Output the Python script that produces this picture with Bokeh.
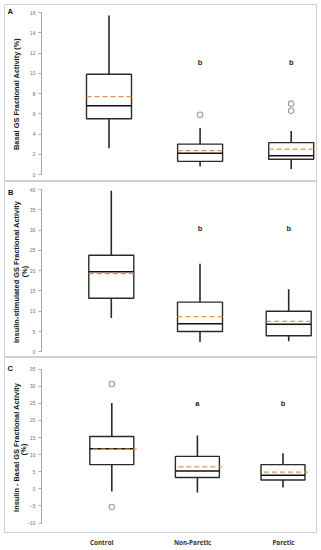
import math
import numpy as np
from bokeh.plotting import figure
from bokeh.models import Range1d, LinearAxis, FixedTicker, Label, ColumnDataSource
from bokeh.layouts import column
from bokeh.embed import file_html
from bokeh.resources import INLINE
from bokeh.core.properties import value

# ---------------- data ----------------
categories = ["Control", "Non-Paretic", "Paretic"]
positions = [1, 2, 3]

# Panel A : Basal GS fractional activity (%)
a_low = [2.6, 0.8, 0.55]
a_q1 = [5.5, 1.3, 1.5]
a_median = [6.8, 2.1, 1.85]
a_q3 = [9.9, 3.0, 3.15]
a_high = [15.7, 4.6, 4.3]
a_mean = [7.7, 2.35, 2.5]
a_out_pos = [2, 3, 3]
a_out_val = [5.9, 6.3, 7.0]
a_letters = ["b", "b"]
a_letter_pos = [2, 3]
a_letter_y = [11.1, 11.1]
a_ticks = [0, 2, 4, 6, 8, 10, 12, 14, 16]

# Panel B : Insulin-stimulated GS fractional activity (%)
b_low = [8.3, 2.4, 2.6]
b_q1 = [13.2, 5.0, 3.95]
b_median = [19.75, 6.9, 6.8]
b_q3 = [23.8, 12.25, 10.0]
b_high = [39.7, 21.7, 15.4]
b_mean = [19.3, 8.65, 7.5]
b_out_pos = []
b_out_val = []
b_letters = ["b", "b"]
b_letter_pos = [2, 3]
b_letter_y = [30.3, 30.3]
b_ticks = [0, 5, 10, 15, 20, 25, 30, 35, 40]

# Panel C : Insulin - Basal GS fractional activity (%)
c_low = [-0.8, -1.1, 0.4]
c_q1 = [7.1, 3.3, 2.6]
c_median = [11.7, 5.2, 4.0]
c_q3 = [15.3, 9.5, 7.1]
c_high = [25.1, 15.6, 10.4]
c_mean = [11.6, 6.4, 4.9]
c_out_pos = [1, 1]
c_out_val = [30.7, -5.3]
c_letters = ["a", "b"]
c_letter_pos = [2, 3]
c_letter_y = [25.1, 25.1]
c_ticks = [-10, -5, 0, 5, 10, 15, 20, 25, 30, 35]

# ---------------- styling ----------------
BORDER = "#cfcfcf"
DARK = "#2a2a2a"
MEAN_COL = "#e0954f"
OUT_COL = "#9a9a9a"
FONT = "Liberation Sans"
W = 314
FRAME_L, FRAME_R = 4, 316  # page px of frame


def make_panel(spec):
    top, height, mbt, mbb = spec["canvas"]
    f_top = top + mbt
    f_bot = top + height - mbb
    (v_lo, py_lo), (v_hi, py_hi) = spec["yref"]
    k = (py_lo - py_hi) / (v_hi - v_lo)
    y0 = v_lo - (f_bot - py_lo) / k
    y1 = v_hi + (py_hi - f_top) / k
    c1, sp = spec["xref"]
    px2x = lambda px: 1 + (px - c1) / sp
    py2y = lambda py: v_lo + (py_lo - py) / k
    x0, x1 = px2x(FRAME_L), px2x(FRAME_R)

    p = figure(width=W, height=height, x_range=Range1d(x0, x1), y_range=Range1d(y0, y1),
               output_backend="svg", toolbar_location=None, x_axis_location=None,
               min_border_left=1, min_border_right=1, min_border_top=mbt,
               min_border_bottom=mbb, background_fill_color="white",
               border_fill_color="white", outline_line_color=BORDER, outline_line_width=1)
    p.grid.visible = False

    ya = p.yaxis[0]
    ya.fixed_location = px2x(40.7)
    ya.bounds = (spec["ticks"][0], spec["ticks"][-1])
    ya.ticker = FixedTicker(ticks=spec["ticks"])
    ya.axis_line_color = "#a8a8a8"
    ya.major_tick_line_color = "#a8a8a8"
    ya.major_tick_out = 3
    ya.major_tick_in = 0
    ya.minor_tick_line_color = None
    ya.major_label_text_font = FONT
    ya.major_label_text_font_size = "4.6px"
    ya.major_label_text_color = "#666666"
    ya.major_label_standoff = 3

    # y-axis title, drawn as rotated labels
    for txt, (lx, ly) in zip(spec["label"], spec["label_px"]):
        p.add_layout(Label(x=px2x(lx), y=py2y(ly), text=txt, angle=math.pi / 2,
                           text_font=FONT, text_font_size="7.4px", text_font_style="bold",
                           text_color="#111111", text_align="center", text_baseline="middle"))

    d = spec["data"]
    wbox = spec["box_px"] / sp
    mshift = spec.get("mean_shift_px", 0) / sp
    xs = np.array(positions, dtype=float)
    src = ColumnDataSource(dict(
        x=xs, low=d["low"], high=d["high"], q1=d["q1"], q3=d["q3"],
        med=d["median"], mean=d["mean"],
        l=xs - wbox / 2, r=xs + wbox / 2,
        ml=xs - wbox / 2 + mshift, mr=xs + wbox / 2 + mshift,
        cat=categories))
    p.segment(x0="x", y0="low", x1="x", y1="high", source=src, line_color=DARK, line_width=1.6)
    p.vbar(x="x", width=wbox, bottom="q1", top="q3", source=src, fill_color="white",
           line_color=DARK, line_width=1.4)
    p.segment(x0="l", y0="med", x1="r", y1="med", source=src, line_color="#111111", line_width=1.5)
    p.segment(x0="ml", y0="mean", x1="mr", y1="mean", source=src, line_color=MEAN_COL,
              line_width=1.3, line_dash="5 3")
    if d["out_pos"]:
        p.scatter(x=d["out_pos"], y=d["out_val"], size=5.5, fill_color="white",
                  line_color=OUT_COL, line_width=1.1)
    p.text(x=d["letter_pos"], y=d["letter_y"], text=d["letters"], text_font=value(FONT),
           text_font_size="7.5px", text_font_style="bold", text_color="#222222",
           text_align="center", text_baseline="middle")
    px_l, py_t = spec["letter_px"]
    p.add_layout(Label(x=px2x(px_l), y=py2y(py_t), text=spec["panel"], text_font=FONT,
                       text_font_size="7.5px", text_font_style="bold", text_color="#111111",
                       text_align="left", text_baseline="top"))
    return p


spec_a = dict(canvas=(3, 178, 1, 1), yref=((0, 174.0), (16, 12.0)), xref=(108.5, 91.1),
              ticks=a_ticks, label=["Basal GS Fractional Activity (%)"],
              label_px=[(15.5, 93.5)], box_px=45, panel="A", letter_px=(7, 6),
              data=dict(low=a_low, q1=a_q1, median=a_median, q3=a_q3, high=a_high, mean=a_mean,
                        out_pos=a_out_pos, out_val=a_out_val, letters=a_letters,
                        letter_pos=a_letter_pos, letter_y=a_letter_y))
spec_b = dict(canvas=(181, 176, 0, 1), yref=((0, 351.3), (40, 189.0)), xref=(110.8, 88.7),
              ticks=b_ticks, label=["Insulin-stimulated GS Fractional Activity", "(%)"],
              label_px=[(15.5, 271.5), (23.5, 271.0)], box_px=45, panel="B",
              letter_px=(7.5, 187),
              data=dict(low=b_low, q1=b_q1, median=b_median, q3=b_q3, high=b_high, mean=b_mean,
                        out_pos=b_out_pos, out_val=b_out_val, letters=b_letters,
                        letter_pos=b_letter_pos, letter_y=b_letter_y))
spec_c = dict(canvas=(357, 192, 0, 13), yref=((-10, 526.3), (35, 369.0)), xref=(111.3, 85.6),
              ticks=c_ticks, label=["Insulin - Basal GS Fractional Activity", "(%)"],
              label_px=[(15.5, 449.0), (23.0, 451.0)], box_px=44, panel="C",
              letter_px=(7, 363.5), mean_shift_px=3,
              data=dict(low=c_low, q1=c_q1, median=c_median, q3=c_q3, high=c_high, mean=c_mean,
                        out_pos=c_out_pos, out_val=c_out_val, letters=c_letters,
                        letter_pos=c_letter_pos, letter_y=c_letter_y))

pA = make_panel(spec_a)
pB = make_panel(spec_b)
pC = make_panel(spec_c)

# category labels under panel C (own range; labels sit slightly left of the boxes)
lab_c1, lab_sp = 101.3, 90.85
lab_x = lambda px: 1 + (px - lab_c1) / lab_sp
pC.extra_x_ranges = {"lab": Range1d(lab_x(FRAME_L), lab_x(FRAME_R))}
xa = LinearAxis(x_range_name="lab", ticker=FixedTicker(ticks=positions),
                major_label_overrides={pos: cat for pos, cat in zip(positions, categories)})
xa.axis_line_color = None
xa.major_tick_line_color = None
xa.minor_tick_line_color = None
xa.major_tick_out = 0
xa.minor_tick_out = 0
xa.major_label_standoff = 5
xa.major_label_text_font = "Open Sans"
xa.major_label_text_font_style = "bold"
xa.major_label_text_font_size = "6.3px"
xa.major_label_text_color = "#333333"
pC.add_layout(xa, "below")

layout = column(pA, pB, pC, spacing=0, margin=(3, 0, 0, 3))

open("out.html", "w").write(file_html(layout, INLINE))
